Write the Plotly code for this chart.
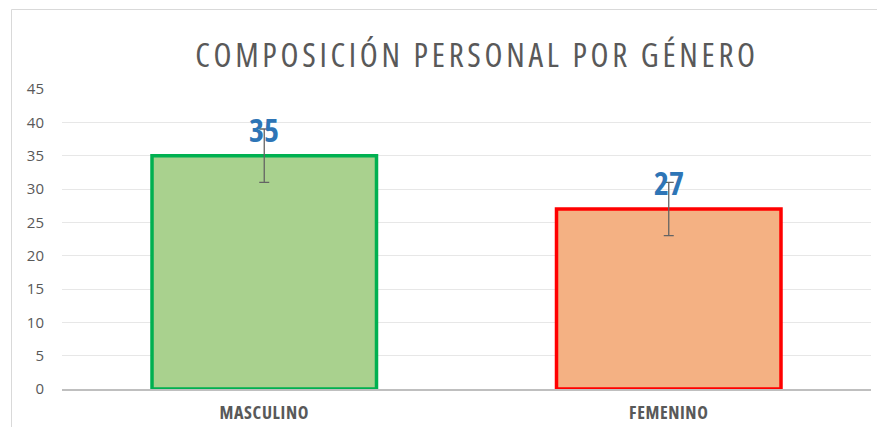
import plotly.graph_objects as go

categories = ["MASCULINO", "FEMENINO"]
values = [35, 27]
errors = [4, 4]
fill_colors = ["#A9D18E", "#F4B183"]
line_colors = ["#00B050", "#FF0000"]
y_ticks = [0, 5, 10, 15, 20, 25, 30, 35, 40, 45]
title_text = "COMPOSICIÓN PERSONAL POR GÉNERO"

W, H = 877, 427
ML, MR, MT, MB = 62, 6, 89, 38
COND = "font-stretch:75%"

fig = go.Figure()
fig.add_trace(go.Bar(
    x=categories,
    y=values,
    width=0.555,
    marker=dict(color=fill_colors, line=dict(color=line_colors, width=3.5)),
    error_y=dict(type="data", array=errors, visible=True,
                 color="#646464", thickness=1.3, width=5),
    hoverinfo="skip",
))

for c, v, e in zip(categories, values, errors):
    fig.add_annotation(
        x=c, y=v + e, xref="x", yref="y",
        text=f'<span style="{COND}"><b>{v}</b></span>', showarrow=False,
        yanchor="middle", xanchor="center",
        font=dict(family="Open Sans, sans-serif", size=32, color="#2E75B6"),
    )

# chart border
fig.add_shape(type="rect", xref="paper", yref="paper",
              x0=(11.5 - ML) / (W - ML - MR), x1=(W + 5 - ML) / (W - ML - MR),
              y0=-(H + 5 - (H - MB)) / (H - MT - MB), y1=((H - MB) - 9.5) / (H - MT - MB),
              line=dict(color="#D9D9D9", width=1), layer="below")

fig.update_layout(
    width=W, height=H,
    margin=dict(l=ML, r=MR, t=MT, b=MB, autoexpand=False),
    paper_bgcolor="white", plot_bgcolor="white",
    showlegend=False,
    title=dict(
        text=f'<span style="{COND};letter-spacing:3.7px">{title_text}</span>',
        x=(477 - ML) / (W - ML - MR), xref="paper", xanchor="center",
        y=1 - 55 / H, yref="container", yanchor="middle",
        font=dict(family="Open Sans, sans-serif", size=33, color="#595959", weight=500),
    ),
)
fig.update_yaxes(
    range=[0, 45], tickvals=y_ticks, showgrid=True, gridcolor="#E7E7E7",
    gridwidth=1, zeroline=False, showline=False, ticks="",
    ticklabelstandoff=17, automargin=False,
    tickfont=dict(family="Open Sans, sans-serif", size=15, color="#595959"),
)
fig.update_xaxes(
    showline=True, linecolor="#BFBFBF", linewidth=1.5, ticks="",
    showgrid=False, ticklabelstandoff=7, automargin=False,
    tickvals=categories,
    ticktext=[f'<span style="{COND};letter-spacing:0.6px">{c}</span>' for c in categories],
    tickfont=dict(family="Open Sans, sans-serif",
                  size=18, color="#595959", weight="bold"),
)

fig.write_html("out.html", config={"displayModeBar": False},
               post_script="document.body.style.margin='0';document.body.style.padding='0';")
